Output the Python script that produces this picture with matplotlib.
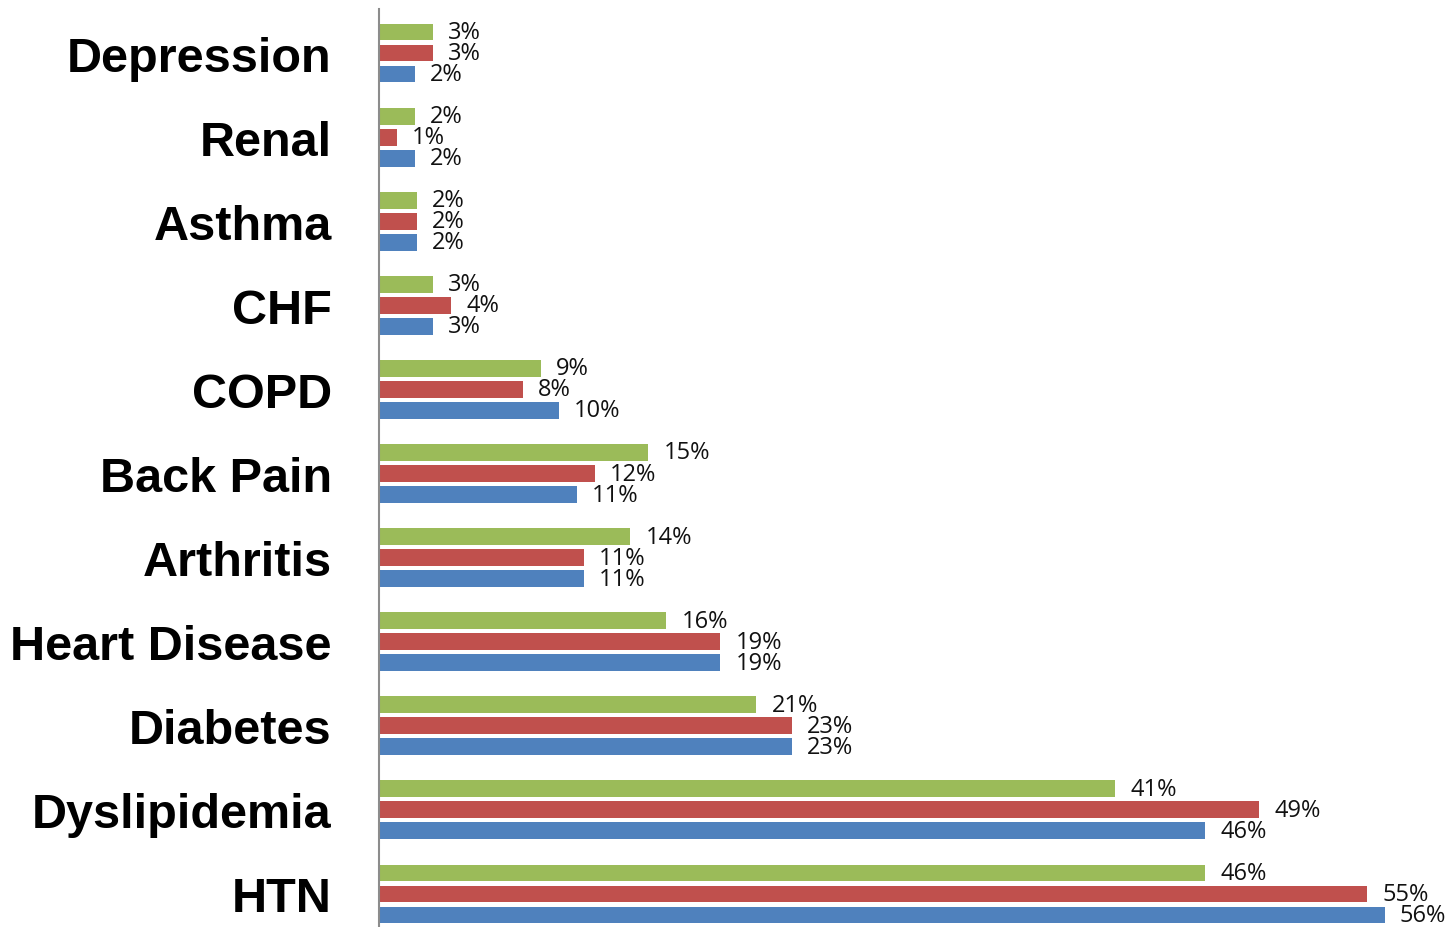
import matplotlib.pyplot as plt
import matplotlib.transforms as mtransforms
import numpy as np

# Data for the chart (bottom to top)
categories = ['HTN', 'Dyslipidemia', 'Diabetes', 'Heart Disease', 'Arthritis',
              'Back Pain', 'COPD', 'CHF', 'Asthma', 'Renal', 'Depression']
green_vals = [46, 41, 21, 16, 14, 15, 9, 3, 2.1, 2, 3]
red_vals = [55, 49, 23, 19, 11.4, 12, 8, 4, 2.1, 1, 3]
blue_vals = [56, 46, 23, 19, 11.4, 11, 10, 3, 2.1, 2, 2]

y = np.arange(len(categories))
bar_h = 0.2
step = 0.25

fig = plt.figure(figsize=(14.47, 9.28), dpi=100)
ax = fig.add_axes([379 / 1447, 0, 1 - 379 / 1447, 918 / 928])

series = [
    (green_vals, step, '#9BBB59'),
    (red_vals, 0, '#C0504D'),
    (blue_vals, -step, '#4F81BD'),
]
for vals, off, col in series:
    bars = ax.barh(y + off, vals, height=bar_h, color=col)
    texts = ax.bar_label(bars, labels=[f'{round(v)}%' for v in vals], padding=11,
                         fontsize=17, family='Open Sans', color='#111111')
    # nudge labels down a little, as in the original
    for t in texts:
        t.set_transform(t.get_transform() + mtransforms.ScaledTranslation(0, -2 / 100, fig.dpi_scale_trans))

ax.set_xlim(0, 59.47)
ax.set_ylim(-0.393, 10.524)
ax.set_yticks(y)
ax.set_yticklabels(categories, fontsize=35, fontweight='bold', family='Liberation Sans')
ax.tick_params(axis='y', length=0, pad=34)
ax.set_xticks([])
for s in ['top', 'right', 'bottom']:
    ax.spines[s].set_visible(False)
ax.spines['left'].set_color('#8c8c8c')
ax.spines['left'].set_linewidth(1.5)

fig.savefig('out.png', dpi=100)
